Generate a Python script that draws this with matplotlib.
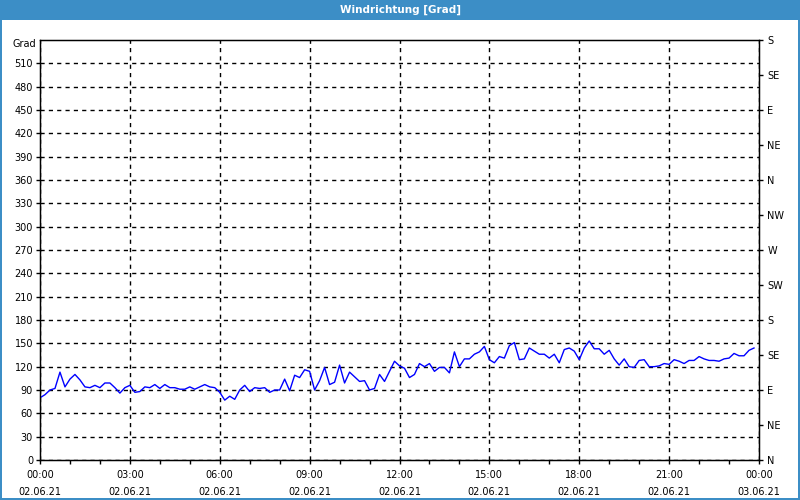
import matplotlib
matplotlib.use("Agg")
import matplotlib.pyplot as plt
import matplotlib.dates as mdates
from matplotlib.patches import Rectangle
import numpy as np
import pandas as pd

title = "Windrichtung [Grad]"
y_unit = "Grad"
start = "2021-06-02 00:00"
step_minutes = 10

values = [
    80, 84, 90, 92, 113, 94, 104, 110, 103, 94, 93, 96, 93, 99, 99, 93, 86, 93, 96, 87, 88, 94, 93, 97, 92,
    97, 93, 93, 91, 91, 94, 91, 94, 97, 94, 93, 87, 77, 82, 78, 90, 96, 88, 93, 92, 93, 87, 90, 90,
    104, 89, 109, 106, 116, 114, 90, 102, 119, 97, 100, 122, 99, 113, 107, 101, 102, 90, 92, 110, 101, 114, 127, 121,
    118, 106, 110, 124, 120, 124, 114, 119, 119, 112, 139, 120, 130, 130, 136, 139, 146, 129, 125, 133, 131, 147, 151, 129,
    130, 144, 140, 136, 136, 131, 136, 125, 142, 144, 140, 129, 144, 153, 143, 143, 136, 141, 130, 122, 130, 120, 119, 128,
    129, 120, 120, 121, 124, 123, 129, 127, 124, 128, 128, 133, 130, 128, 128, 127, 130, 131, 137, 134, 134, 141, 144,
]

left_ticks = list(range(0, 511, 30))
right_ticks = list(range(0, 541, 45))
right_labels = ["N", "NE", "E", "SE", "S", "SW", "W", "NW", "N", "NE", "E", "SE", "S"]

times = pd.date_range(start, periods=len(values), freq=f"{step_minutes}min")
x_start = pd.Timestamp("2021-06-02 00:00")
x_end = pd.Timestamp("2021-06-03 00:00")

fig = plt.figure(figsize=(8, 5), dpi=100)
fig.patch.set_facecolor("white")

bar_color = "#3c8ec6"
fig.patches.append(Rectangle((0, 1 - 20 / 500), 1, 20 / 500, transform=fig.transFigure,
                             facecolor=bar_color, edgecolor="none", zorder=0))
# window border
fig.patches.append(Rectangle((0, 0), 2 / 800, 1, transform=fig.transFigure, facecolor=bar_color, edgecolor="none"))
fig.patches.append(Rectangle((1 - 2 / 800, 0), 2 / 800, 1, transform=fig.transFigure, facecolor=bar_color, edgecolor="none"))
fig.patches.append(Rectangle((0, 0), 1, 2 / 500, transform=fig.transFigure, facecolor=bar_color, edgecolor="none"))
fig.text(0.5, 1 - 10 / 500, title, color="white", fontsize=7.5, fontweight="bold",
         ha="center", va="center")

ax = fig.add_axes([40 / 800, 1 - 460 / 500, (759 - 40) / 800, 420 / 500])
ax.plot(times, values, color="#0000ff", linewidth=1.0, zorder=3)

ax.set_xlim(x_start, x_end)
ax.set_ylim(0, 540)
ax.set_yticks(left_ticks)
ax.tick_params(axis="both", labelsize=7, length=3, width=1, color="black", direction="out", pad=2)
ax.xaxis.set_major_locator(mdates.HourLocator(byhour=range(0, 24, 3)))
ax.xaxis.set_minor_locator(mdates.HourLocator())
ax.tick_params(axis="x", which="minor", length=3, width=1)
ax.xaxis.set_major_formatter(mdates.DateFormatter("%H:%M\n%d.%m.%y"))
for lbl in ax.get_xticklabels():
    lbl.set_linespacing(1.9)
ax.tick_params(axis="x", pad=4)
ax.grid(True, which="major", color="black", linestyle=(0, (3, 3)), linewidth=1)
for s in ax.spines.values():
    s.set_color("black")
    s.set_linewidth(1)

ax.text(-0.005, 1 - 4 / 420, y_unit, transform=ax.transAxes, ha="right", va="center", fontsize=7)

ax2 = ax.twinx()
ax2.set_ylim(0, 540)
ax2.set_yticks(right_ticks)
ax2.set_yticklabels(right_labels)
ax2.tick_params(axis="y", labelsize=7, length=3, width=1, direction="out", pad=3)

fig.savefig("out.png", dpi=100, facecolor="white")
